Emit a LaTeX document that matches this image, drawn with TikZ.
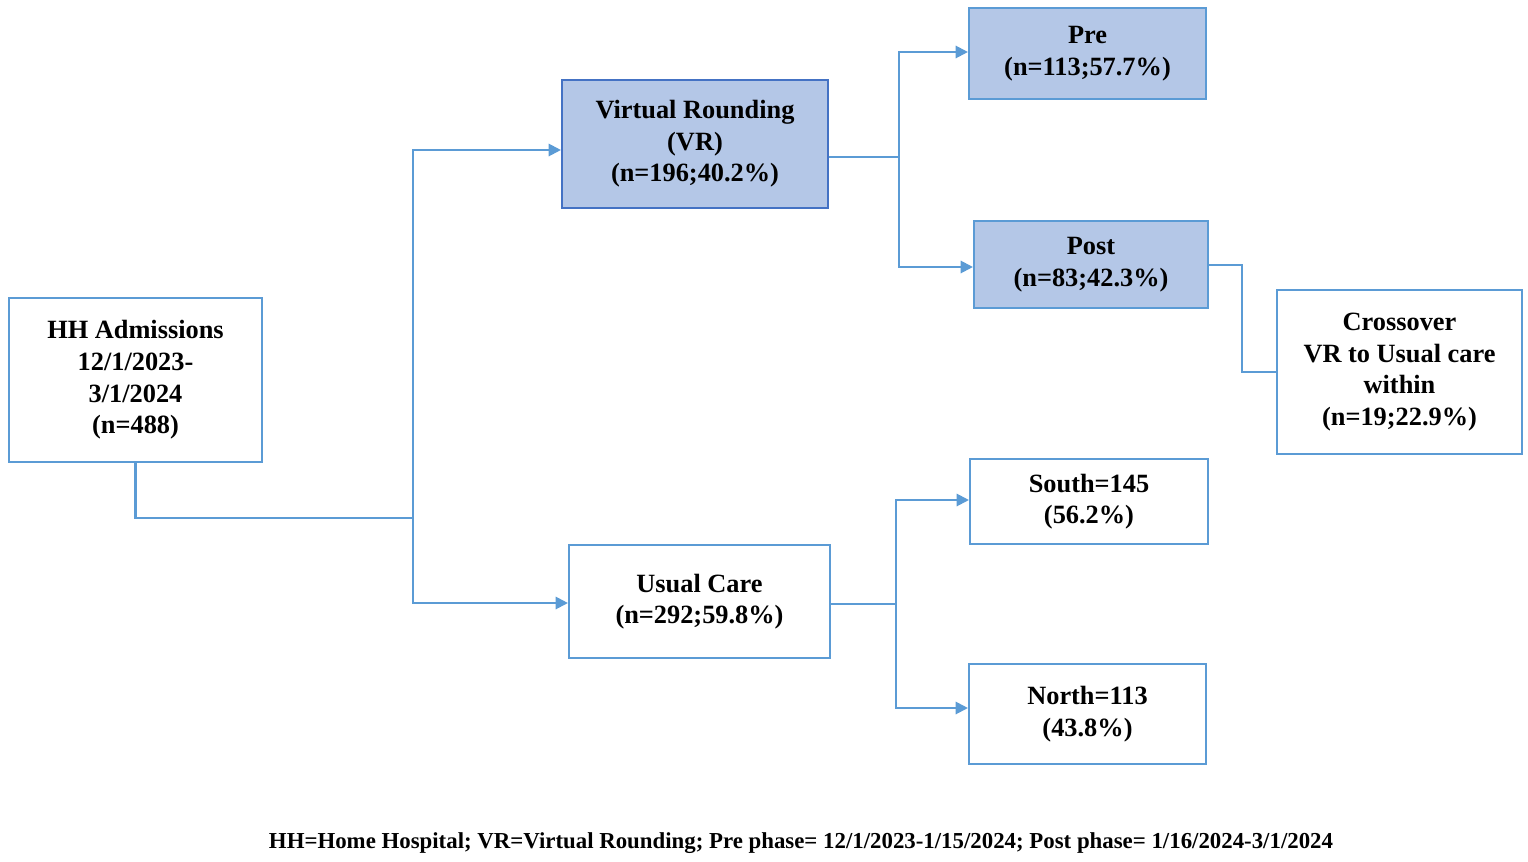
\documentclass[tikz,border=0pt]{standalone}
\usepackage{fontspec}
\setmainfont{Liberation Serif}
\usetikzlibrary{arrows.meta}
\definecolor{linkblue}{RGB}{91,155,213}
\definecolor{boxfill}{RGB}{180,199,231}
\definecolor{darkedge}{RGB}{68,114,196}
\begin{document}
\begin{tikzpicture}[x=0.02cm, y=-0.02cm,
    box/.style={rectangle, draw=linkblue, line width=1.2pt, align=center,
        font=\fontsize{15}{18}\selectfont\bfseries, inner sep=0pt},
    phase/.style={box, fill=boxfill},
    link/.style={draw=linkblue, line width=1.2pt},
    arr/.style={link, -{Triangle[length=7pt, width=7pt]}}
]
    \useasboundingbox (0,0) rectangle (1528,862);

    \node[box, minimum width=253*0.02cm, minimum height=164*0.02cm] (hh) at (135.5,380)
        {HH Admissions\\12/1/2023-\\3/1/2024\\(n=488)};
    \node[phase, draw=darkedge, minimum width=266*0.02cm, minimum height=128*0.02cm] (vr) at (695,144)
        {Virtual Rounding\\(VR)\\(n=196;40.2\%)};
    \node[box, minimum width=261*0.02cm, minimum height=113*0.02cm] (uc) at (699.5,601.5)
        {Usual Care\\(n=292;59.8\%)};
    \node[phase, minimum width=237*0.02cm, minimum height=91*0.02cm] (pre) at (1087.5,53.5)
        {Pre\\(n=113;57.7\%)};
    \node[phase, minimum width=234*0.02cm, minimum height=87*0.02cm] (post) at (1091,264.5)
        {Post\\(n=83;42.3\%)};
    \node[box, minimum width=245*0.02cm, minimum height=164*0.02cm] (cross) at (1399.5,372)
        {Crossover\\VR to Usual care\\within\\(n=19;22.9\%)};
    \node[box, minimum width=238*0.02cm, minimum height=85*0.02cm] (south) at (1089,501.5)
        {South=145\\(56.2\%)};
    \node[box, minimum width=237*0.02cm, minimum height=100*0.02cm] (north) at (1087.5,714)
        {North=113\\(43.8\%)};

    % trunk from admissions
    \coordinate (split) at (413,518);
    \draw[link] (hh.south) |- (split);
    \draw[arr] (split) |- (vr.west |- 0,150);
    \draw[arr] (split) |- (uc.west |- 0,603);

    % virtual rounding phases
    \coordinate (vrfork) at (899,157);
    \draw[link] (vr.east |- vrfork) -- (vrfork);
    \draw[arr] (vrfork) |- (pre.west |- 0,52);
    \draw[arr] (vrfork) |- (post.west |- 0,267);

    % usual care sites
    \coordinate (ucfork) at (896,604);
    \draw[link] (uc.east |- ucfork) -- (ucfork);
    \draw[arr] (ucfork) |- (south.west |- 0,500);
    \draw[arr] (ucfork) |- (north.west |- 0,708);

    % crossover
    \draw[link] (post.east |- 0,265) -| (1242,372) -- (cross.west);

    \node[font=\fontsize{13}{15}\selectfont\bfseries] (note) at (801,843)
        {HH=Home Hospital; VR=Virtual Rounding; Pre phase= 12/1/2023-1/15/2024; Post phase= 1/16/2024-3/1/2024};
\end{tikzpicture}
\end{document}
